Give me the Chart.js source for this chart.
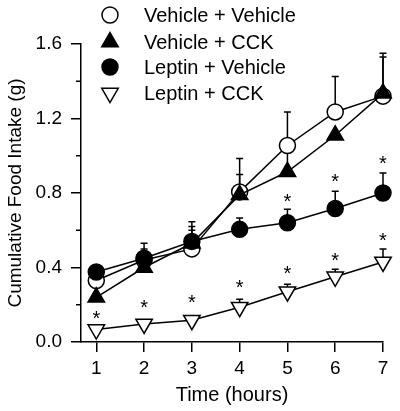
<!DOCTYPE html>
<html>
<head>
<meta charset="utf-8">
<script src="https://cdn.jsdelivr.net/npm/chart.js@4/dist/chart.umd.min.js"></script>
<style>
html, body { margin: 0; padding: 0; background: #fff; }
</style>
</head>
<body>
<canvas id="MyChart" width="400" height="411"></canvas>
<script>
// data
var hours = [1, 2, 3, 4, 5, 6, 7];
var yTicks = [0, 0.4, 0.8, 1.2, 1.6];
var yMinorTicks = [0.2, 0.6, 1.0, 1.4];

var labels = ["Vehicle + Vehicle", "Vehicle + CCK", "Leptin + Vehicle", "Leptin + CCK"];

var vehVeh = [0.33, 0.44, 0.50, 0.806, 1.055, 1.235, 1.32];
var vehCck = [0.24, 0.40, 0.53, 0.79, 0.914, 1.11, 1.335];
var lepVeh = [0.376, 0.45, 0.54, 0.605, 0.64, 0.717, 0.80];
var lepCck = [0.067, 0.097, 0.117, 0.187, 0.27, 0.35, 0.43];

// top of each error bar (mean + SEM), null where none is visible
var vehVehTop = [null, 0.50, 0.645, 0.985, 1.235, 1.425, 1.55];
var vehCckTop = [null, null, 0.60, 0.90, 1.04, null, 1.53];
var lepVehTop = [null, 0.53, 0.62, 0.666, 0.713, 0.81, 0.908];
var lepCckTop = [null, 0.11, 0.13, 0.23, 0.31, 0.39, 0.50];

// significance asterisks: [hour, height]
var starHours = [1, 2, 3, 4, 5, 6, 7, 5, 6, 7];
var starLevels = [0.15, 0.21, 0.235, 0.315, 0.39, 0.46, 0.57, 0.78, 0.887, 0.98];

var FONT = "'Liberation Sans', Arial, sans-serif";

function pts(vals) {
	return vals.map(function(v, i) { return {x: hours[i], y: v}; });
}

var errSets = [
	{mean: vehVeh, top: vehVehTop},
	{mean: vehCck, top: vehCckTop},
	{mean: lepVeh, top: lepVehTop},
	{mean: lepCck, top: lepCckTop}
];

var extras = {
	id: 'extras',
	beforeDatasetsDraw: function(chart) {
		var ctx = chart.ctx, x = chart.scales.x, y = chart.scales.y;
		ctx.save();
		ctx.strokeStyle = '#000';
		ctx.lineWidth = 1.5;
		errSets.forEach(function(e) {
			e.top.forEach(function(t, i) {
				if (t == null) return;
				var px = x.getPixelForValue(hours[i]);
				var pt = y.getPixelForValue(t);
				ctx.beginPath();
				ctx.moveTo(px, y.getPixelForValue(e.mean[i]));
				ctx.lineTo(px, pt);
				ctx.moveTo(px - 3.5, pt);
				ctx.lineTo(px + 3.5, pt);
				ctx.stroke();
			});
		});
		// short minor ticks on the y axis
		var left = chart.chartArea.left;
		yMinorTicks.forEach(function(v) {
			var py = y.getPixelForValue(v);
			ctx.beginPath();
			ctx.moveTo(left - 5, py);
			ctx.lineTo(left, py);
			ctx.stroke();
		});
		ctx.restore();
	},
	afterDraw: function(chart) {
		var ctx = chart.ctx, x = chart.scales.x, y = chart.scales.y;
		ctx.save();
		ctx.fillStyle = '#000';
		ctx.font = '20px ' + FONT;
		ctx.textAlign = 'center';
		ctx.textBaseline = 'alphabetic';
		starHours.forEach(function(h, i) {
			ctx.fillText('*', x.getPixelForValue(h), y.getPixelForValue(starLevels[i]) + 11);
		});
		// legend
		var rows = [15, 42, 67, 93];
		chart.data.datasets.forEach(function(ds, i) {
			ctx.fillStyle = ds.pointBackgroundColor;
			ctx.strokeStyle = '#000';
			ctx.lineWidth = 1.5;
			Chart.helpers.drawPoint(ctx, {
				pointStyle: ds.pointStyle,
				radius: ds.pointRadius,
				borderWidth: 1.5,
				rotation: ds.pointRotation || 0
			}, 110, rows[i]);
			ctx.fillStyle = '#000';
			ctx.font = '20px ' + FONT;
			ctx.textAlign = 'left';
			ctx.textBaseline = 'middle';
			ctx.fillText(ds.label, 144, rows[i] + 1);
		});
		ctx.restore();
	}
};

function series(label, vals, style, fill, rot, order) {
	return {
		label: label,
		data: pts(vals),
		borderColor: '#000',
		borderWidth: 1.5,
		pointStyle: style,
		pointRadius: style == 'circle' ? 8 : 9.5,
		pointRotation: rot,
		pointBackgroundColor: fill,
		pointBorderColor: '#000',
		pointBorderWidth: 1.5,
		showLine: true,
		fill: false,
		tension: 0,
		clip: false,
		order: order
	};
}

var ctx = document.getElementById('MyChart').getContext('2d');
var chart = new Chart(ctx, {
	type: 'scatter',
	data: {
		datasets: [
			series(labels[0], vehVeh, 'circle', '#fff', 0, 3),
			series(labels[1], vehCck, 'triangle', '#000', 0, 1),
			series(labels[2], lepVeh, 'circle', '#000', 0, 0),
			series(labels[3], lepCck, 'triangle', '#fff', 180, 2)
		]
	},
	options: {
		responsive: false,
		animation: false,
		devicePixelRatio: 1,
		layout: { padding: { top: 44, right: 17, left: 0, bottom: 0 } },
		plugins: {
			legend: { display: false },
			tooltip: { enabled: false }
		},
		scales: {
			x: {
				type: 'linear',
				min: 0.68,
				max: 7,
				afterBuildTicks: function(s) { s.ticks = hours.map(function(v) { return {value: v}; }); },
				afterFit: function(s) { s.height = 69; },
				grid: { drawOnChartArea: false, tickLength: 10, color: '#000', lineWidth: 1.5 },
				border: { color: '#000', width: 1.5 },
				ticks: { color: '#000', font: { size: 19, family: FONT }, padding: 5, maxRotation: 0 },
				title: { display: true, text: 'Time (hours)', color: '#000', font: { size: 20, family: FONT }, padding: { top: 0, bottom: 4 } }
			},
			y: {
				min: 0,
				max: 1.6,
				afterBuildTicks: function(s) { s.ticks = yTicks.map(function(v) { return {value: v}; }); },
				afterFit: function(s) { s.width = 81; },
				grid: { drawOnChartArea: false, tickLength: 10, color: '#000', lineWidth: 1.5 },
				border: { color: '#000', width: 1.5 },
				ticks: { color: '#000', font: { size: 19, family: FONT }, padding: 9,
					callback: function(v) { return v.toFixed(1); } },
				title: { display: true, text: 'Cumulative Food Intake (g)', color: '#000', font: { size: 19, family: FONT }, padding: { top: 4, bottom: 0 } }
			}
		}
	},
	plugins: [extras]
});
</script>
</body>
</html>
